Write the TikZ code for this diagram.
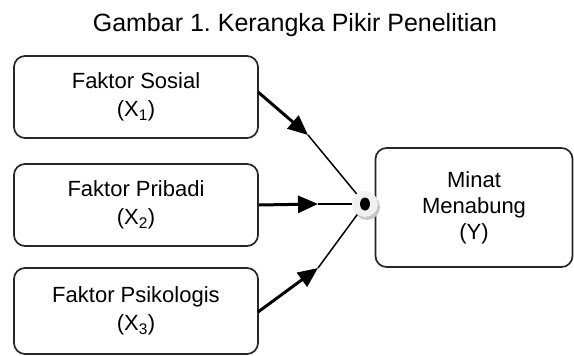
\documentclass[tikz,border=0pt]{standalone}
\usepackage{fontspec}
\setmainfont{Liberation Sans}
\usetikzlibrary{arrows.meta,shapes.geometric}
\tikzset{
  fbox/.style={draw=black!85, line width=1.7pt, rounded corners=11pt, align=center,
    font=\fontsize{22}{28}\selectfont, inner sep=0pt},
  thickseg/.style={line width=3pt, -{Triangle[length=20pt,width=17pt]}},
  thinseg/.style={line width=1.5pt},
}
\begin{document}
\begin{tikzpicture}[x=1pt,y=-1pt]
\useasboundingbox (0,0) rectangle (574,356);
\node[anchor=base, font=\fontsize{25}{28}\selectfont] (title) at (295,31) {\frenchspacing Gambar 1. Kerangka Pikir Penelitian};
\node[fbox, minimum width=244pt, minimum height=82pt] (b1) at (136,97) {Faktor Sosial\\(X\textsubscript{1})};
\node[fbox, minimum width=244pt, minimum height=82pt] (b2) at (136,205) {Faktor Pribadi\\(X\textsubscript{2})};
\node[fbox, minimum width=244pt, minimum height=86pt] (b3) at (136,311) {Faktor Psikologis\\(X\textsubscript{3})};
\node[fbox, minimum width=197pt, minimum height=119pt, font=\fontsize{22}{26}\selectfont] (y) at (474,207.5) {Minat\\Menabung\\(Y)};
% dot with halo
\fill[gray!45] (367,207) circle (13pt);
\node[circle, fill=gray!12, minimum size=26pt, inner sep=0pt] (halo) at (365,204) {};
\node[ellipse, fill=black, minimum width=10pt, minimum height=13pt, inner sep=0pt] (dot) at (365,204) {};
% tips
\coordinate (t1) at (308,135);
\coordinate (t2) at (318,204);
\coordinate (t3) at (318,268);
\coordinate (s1) at (258,92);
\coordinate (s3) at (258,312);
\draw[thickseg] (s1) -- (t1);
\draw[thinseg] (t1) -- (halo);
\draw[thickseg] (b2.east) -- (t2);
\draw[thinseg] (t2) -- (halo);
\draw[thickseg] (s3) -- (t3);
\draw[thinseg] (t3) -- (halo);
\end{tikzpicture}
\end{document}
